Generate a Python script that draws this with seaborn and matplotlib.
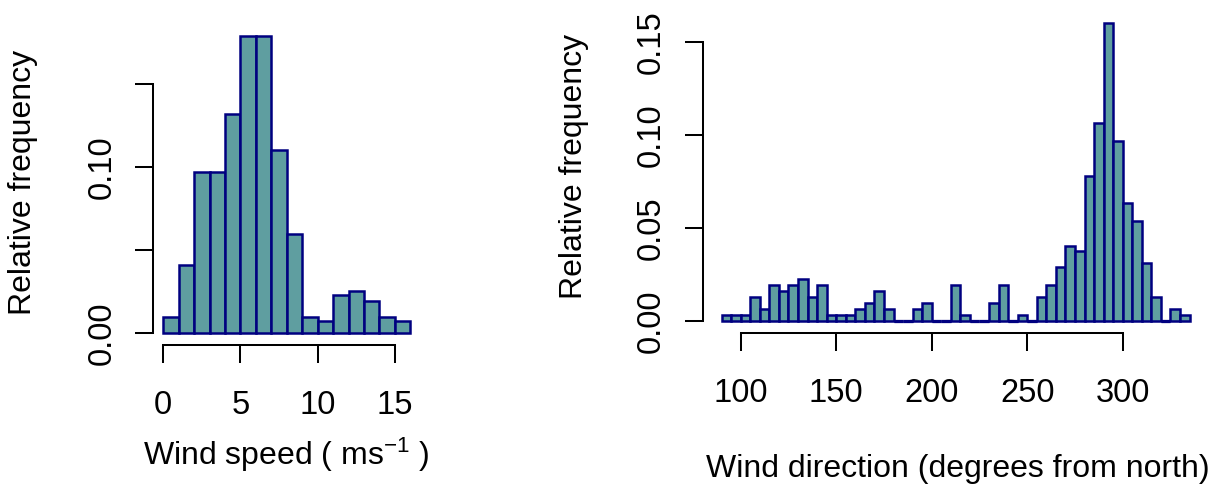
import numpy as np
import pandas as pd
import seaborn as sns
import matplotlib
matplotlib.use("Agg")
import matplotlib.pyplot as plt

# Wind speed histogram: 1 m/s bins from 0 to 16
speed_edges = list(range(0, 17))
speed_freq = [0.0098, 0.0408, 0.0972, 0.0972, 0.1320, 0.1790, 0.1790, 0.1100,
              0.0600, 0.0098, 0.0072, 0.0230, 0.0254, 0.0194, 0.0098, 0.0072]

# Wind direction histogram: 5 degree bins from 90 to 335
direction_edges = list(range(90, 340, 5))
direction_freq = [0.0032, 0.0032, 0.0032, 0.0129, 0.0064, 0.0193, 0.0161, 0.0193,
                  0.0225, 0.0129, 0.0193, 0.0032, 0.0032, 0.0032, 0.0064, 0.0096,
                  0.0161, 0.0064, 0.0, 0.0, 0.0064, 0.0096, 0.0, 0.0,
                  0.0193, 0.0032, 0.0, 0.0, 0.0096, 0.0193, 0.0, 0.0032,
                  0.0, 0.0129, 0.0193, 0.0289, 0.0405, 0.0375, 0.0781, 0.1061,
                  0.1600, 0.0965, 0.0633, 0.0537, 0.0310, 0.0129, 0.0, 0.0064,
                  0.0032]

speed_ticks = [0, 5, 10, 15]
speed_tick_labels = ["0", "5", "10", "15"]
direction_ticks = [100, 150, 200, 250, 300]
direction_tick_labels = ["100", "150", "200", "250", "300"]
freq_ticks = [0.00, 0.05, 0.10, 0.15]
speed_freq_labels = ["0.00", "", "0.10", ""]
direction_freq_labels = ["0.00", "0.05", "0.10", "0.15"]

sns.set_theme(style="ticks")
plt.rcParams["font.family"] = ["Liberation Sans", "DejaVu Sans"]
plt.rcParams["mathtext.fontset"] = "custom"
plt.rcParams["mathtext.rm"] = "Liberation Sans"
plt.rcParams["mathtext.it"] = "Liberation Sans"
plt.rcParams["text.color"] = "black"
plt.rcParams["axes.labelcolor"] = "black"

FILL = "#5F9EA0"
EDGE = "#000080"
FS_LAB = 23
FS_TICK = 23.5
LW = 1.45
BAR_LW = 1.8

W, H = 1210, 488
fig = plt.figure(figsize=(W / 100, H / 100), dpi=100)


def px_axes(left, right, top, bottom):
    return fig.add_axes([left / W, (H - bottom) / H, (right - left) / W, (bottom - top) / H])


ax1 = px_axes(153.4, 420.2, 23.4, 345.2)
ax2 = px_axes(702.9, 1208.3, 11.2, 332.9)


def draw_hist(ax, edges, freq):
    centers = [(a + b) / 2 for a, b in zip(edges[:-1], edges[1:])]
    df = pd.DataFrame({"x": centers, "w": freq})
    sns.histplot(data=df, x="x", weights="w",
                 binwidth=edges[1] - edges[0], binrange=(edges[0], edges[-1]),
                 stat="count", color=FILL, edgecolor=EDGE, linewidth=BAR_LW,
                 alpha=1, ax=ax)
    # empty bins still show their outline along the baseline
    empty = [(a, b) for a, b, f in zip(edges[:-1], edges[1:], freq) if f == 0]
    if empty:
        ax.hlines([0] * len(empty), [a for a, _ in empty], [b for _, b in empty],
                  color=EDGE, linewidth=BAR_LW * 1.3, zorder=3)


draw_hist(ax1, speed_edges, speed_freq)
draw_hist(ax2, direction_edges, direction_freq)

ax1.set_xlim(-0.64, 16.64)
ax1.set_ylim(-0.00716, 0.1864)
ax2.set_xlim(80.2, 344.8)
ax2.set_ylim(-0.0064, 0.1664)

ax1.set_xticks(speed_ticks, speed_tick_labels)
ax1.set_yticks(freq_ticks, speed_freq_labels)
ax2.set_xticks(direction_ticks, direction_tick_labels)
ax2.set_yticks(freq_ticks, direction_freq_labels)

for ax, xb in ((ax1, (0, 15)), (ax2, (100, 300))):
    for s in ("top", "right"):
        ax.spines[s].set_visible(False)
    ax.spines["left"].set_bounds(0, 0.15)
    ax.spines["bottom"].set_bounds(*xb)
    for s in ("left", "bottom"):
        ax.spines[s].set_linewidth(LW)
        ax.spines[s].set_color("black")
    ax.tick_params(axis="both", length=13, width=LW, color="black",
                   labelsize=FS_TICK, labelcolor="black", direction="out")
    ax.tick_params(axis="x", pad=19.5)
    ax.tick_params(axis="y", pad=13, labelrotation=90)
    for lab in ax.get_yticklabels():
        lab.set_va("center")
    ax.grid(False)

ax1.set_xlabel(r"Wind speed ( ms$^{-1}$ )", fontsize=FS_LAB, va="baseline", color="black")
ax1.xaxis.set_label_coords(0.497, -0.372)
ax1.set_ylabel("Relative frequency", fontsize=FS_LAB, va="baseline",
               rotation_mode="anchor", color="black")
ax1.yaxis.set_label_coords(-0.4588, 0.5056)

ax2.set_xlabel("Wind direction (degrees from north)", fontsize=FS_LAB, va="baseline",
               color="black")
ax2.xaxis.set_label_coords(0.5038, -0.448)
ax2.set_ylabel("Relative frequency", fontsize=FS_LAB, va="baseline",
               rotation_mode="anchor", color="black")
ax2.yaxis.set_label_coords(-0.2392, 0.517)

fig.savefig("out.png", dpi=100, facecolor="white")
